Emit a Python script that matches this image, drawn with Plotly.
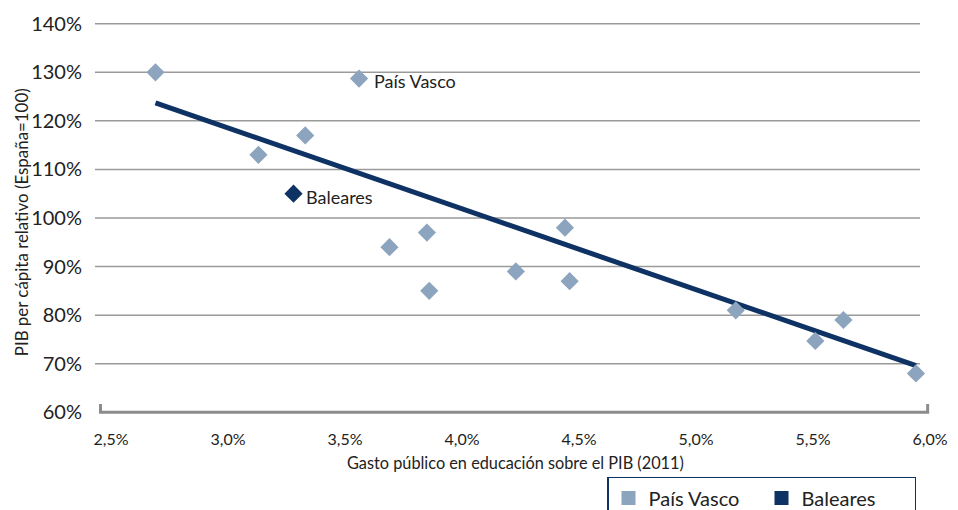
import plotly.graph_objects as go

# Data
gasto = [2.69, 3.13, 3.33, 3.56, 3.69, 3.85, 3.86, 4.23, 4.44, 4.46, 5.17, 5.51, 5.63, 5.94]
pib = [130, 113, 117, 128.7, 94, 97, 85, 89, 98, 87, 81, 74.7, 79, 68]
baleares_x = [3.28]
baleares_y = [105]
trend_x = [2.69, 5.94]
trend_y = [123.7, 69.6]
x_ticks = [2.5, 3.0, 3.5, 4.0, 4.5, 5.0, 5.5, 6.0]
x_labels = ["2,5%", "3,0%", "3,5%", "4,0%", "4,5%", "5,0%", "5,5%", "6,0%"]
y_ticks = [60, 70, 80, 90, 100, 110, 120, 130, 140]
y_labels = ["60%", "70%", "80%", "90%", "100%", "110%", "120%", "130%", "140%"]

LIGHT = "#8DA4BE"
NAVY = "#0E3263"
FONT = "Lato, 'Open Sans', sans-serif"

fig = go.Figure()

fig.add_trace(go.Scatter(x=trend_x, y=trend_y, mode="lines",
                         line=dict(color=NAVY, width=5), showlegend=False, hoverinfo="skip"))
fig.add_trace(go.Scatter(x=gasto, y=pib, mode="markers",
                         marker=dict(symbol="diamond", size=14, color=LIGHT),
                         showlegend=False, name="País Vasco"))
fig.add_trace(go.Scatter(x=baleares_x, y=baleares_y, mode="markers",
                         marker=dict(symbol="diamond", size=14, color=NAVY),
                         showlegend=False, name="Baleares"))
# legend entries (square swatches)
fig.add_trace(go.Scatter(x=[None], y=[None], mode="markers", name="País Vasco",
                         marker=dict(symbol="square", size=14, color=LIGHT)))
fig.add_trace(go.Scatter(x=[None], y=[None], mode="markers", name="Baleares",
                         marker=dict(symbol="square", size=14, color=NAVY)))

shapes = []
for v in y_ticks[1:]:
    shapes.append(dict(type="line", xref="x domain", yref="y", x0=0, x1=0.988, y0=v, y1=v,
                       line=dict(color="#9a9a9a", width=1.5), layer="below"))
# bracket-style x axis line
shapes.append(dict(type="path", xref="x", yref="y",
                   path=f"M {x_ticks[0]-0.045},{y_ticks[0]+1.7} L {x_ticks[0]-0.045},{y_ticks[0]} "
                        f"L {x_ticks[-1]-0.01},{y_ticks[0]} L {x_ticks[-1]-0.01},{y_ticks[0]+1.7}",
                   line=dict(color="#8c8c8c", width=3)))

# plot area in page pixels: left 95, width 835, bottom 423, height 408.5
annotations = [
    dict(x=3.56, y=128.7, xref="x", yref="y", text="País Vasco", showarrow=False,
         xanchor="left", xshift=13, yshift=-2, font=dict(family=FONT, size=18, color="#222")),
    dict(x=3.28, y=105, xref="x", yref="y", text="Baleares", showarrow=False,
         xanchor="left", xshift=10, yshift=-3, font=dict(family=FONT, size=18, color="#222")),
    dict(x=(515 - 95) / 835, y=(423 - 464) / 408.5, xref="paper", yref="paper",
         text="Gasto público en educación sobre el PIB (2011)", showarrow=False, yanchor="middle",
         font=dict(family=FONT, size=16.3, color="#222")),
    dict(x=(21 - 95) / 835, y=(423 - 223) / 408.5, xref="paper", yref="paper",
         text="PIB per cápita relativo (España=100)", textangle=-90, showarrow=False,
         font=dict(family=FONT, size=16.9, color="#222"), xanchor="center", yanchor="middle"),
]

# page body has an 8px margin, so the figure is 950x502 and offsets are reduced by 8
fig.update_layout(
    width=950, height=502,
    margin=dict(l=87, r=28, t=6, b=87.5, autoexpand=False),
    plot_bgcolor="white", paper_bgcolor="white",
    font=dict(family=FONT, color="#222"),
    shapes=shapes, annotations=annotations,
    legend=dict(orientation="h", x=(607 - 95) / 835, y=(423 - 478) / 408.5, xanchor="left", yanchor="top",
                bordercolor=NAVY, borderwidth=1.5, font=dict(family=FONT, size=20, color="#222"),
                itemwidth=30, entrywidth=108, entrywidthmode="pixels"),
    xaxis=dict(range=[2.4316, 6.0], tickvals=x_ticks, ticktext=x_labels, showgrid=False, zeroline=False,
               showline=False, ticks="", ticklabelstandoff=6, automargin=False,
               tickfont=dict(family="'Liberation Sans Narrow', Lato, sans-serif", size=16, color="#222")),
    yaxis=dict(range=[58, 142], tickvals=y_ticks, ticktext=y_labels, showgrid=False, zeroline=False,
               showline=False, ticks="", ticklabelstandoff=12, automargin=False,
               tickfont=dict(family=FONT, size=20, color="#222")),
)

fig.write_html("out.html")
